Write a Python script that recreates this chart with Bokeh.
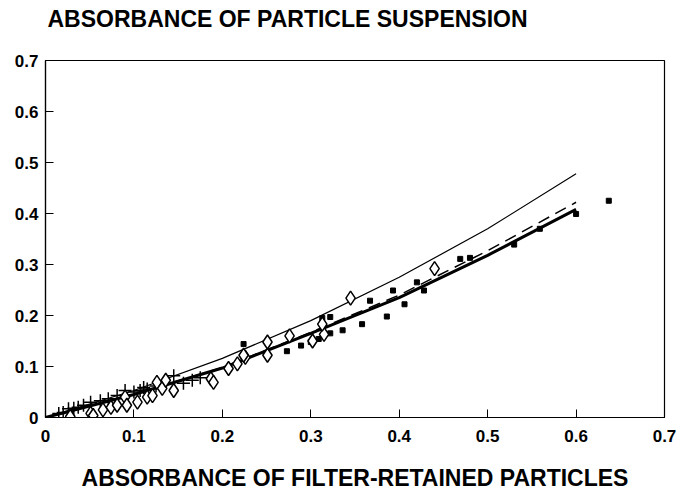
from bokeh.plotting import figure
from bokeh.models import FixedTicker, Title
from bokeh.embed import file_html
from bokeh.resources import INLINE

# ---- data ----
cross_x = [0.015, 0.020, 0.026, 0.032, 0.037, 0.043, 0.051, 0.062, 0.071, 0.081, 0.090, 0.100,
           0.107, 0.111, 0.115, 0.125, 0.145, 0.156, 0.166, 0.175]
cross_y = [0.008, 0.010, 0.017, 0.018, 0.020, 0.024, 0.030, 0.033, 0.037, 0.043, 0.053, 0.050,
           0.053, 0.059, 0.056, 0.062, 0.082, 0.067, 0.073, 0.078]

diam_x = [0.028, 0.051, 0.054, 0.065, 0.074, 0.081, 0.090, 0.092, 0.104, 0.115, 0.121, 0.126,
          0.132, 0.136, 0.145, 0.187, 0.190, 0.207, 0.217, 0.226, 0.224, 0.251, 0.251, 0.276,
          0.302, 0.315, 0.313, 0.345, 0.440]
diam_y = [0.002, 0.008, 0.004, 0.015, 0.020, 0.024, 0.040, 0.024, 0.030, 0.040, 0.043, 0.069,
          0.057, 0.073, 0.053, 0.076, 0.069, 0.096, 0.105, 0.118, 0.122, 0.122, 0.148, 0.160,
          0.150, 0.163, 0.183, 0.234, 0.292]

sq_x = [0.224, 0.273, 0.289, 0.300, 0.309, 0.313, 0.322, 0.322, 0.336, 0.358, 0.367, 0.386,
        0.393, 0.406, 0.420, 0.428, 0.469, 0.480, 0.530, 0.559, 0.600, 0.637]
sq_y = [0.144, 0.130, 0.141, 0.148, 0.154, 0.195, 0.197, 0.165, 0.171, 0.183, 0.229, 0.198,
        0.249, 0.222, 0.265, 0.249, 0.311, 0.313, 0.339, 0.370, 0.399, 0.425]

curve_x = [0.0, 0.1, 0.2, 0.3, 0.4, 0.5, 0.6]
upper_y = [0.0, 0.053, 0.116, 0.190, 0.275, 0.370, 0.478]
thick_y = [0.0, 0.045, 0.097, 0.165, 0.235, 0.318, 0.408]
dash_y = [0.0, 0.046, 0.098, 0.167, 0.240, 0.327, 0.422]

x_ticks = [0, 0.1, 0.2, 0.3, 0.4, 0.5, 0.6, 0.7]
y_ticks = [0, 0.1, 0.2, 0.3, 0.4, 0.5, 0.6, 0.7]
tick_labels = ["0", "0.1", "0.2", "0.3", "0.4", "0.5", "0.6", "0.7"]

title_text = "ABSORBANCE OF PARTICLE SUSPENSION"
xlabel_text = "ABSORBANCE OF FILTER-RETAINED PARTICLES"

FONT = "Liberation Sans"

p = figure(width=678, height=492, output_backend="svg", toolbar_location=None,
           x_range=(0, 0.7), y_range=(0, 0.7),
           min_border_left=45, min_border_right=14, min_border_top=60, min_border_bottom=75)
p.title = None

# spacer panels (blank) and the two headings, stacked outward from the frame
p.add_layout(Title(text=" ", text_font_size="1px", standoff=24), "above")
p.add_layout(Title(text=title_text, align="left", vertical_align="top", text_font=FONT,
                   text_font_size="23px", text_font_style="bold", text_color="black",
                   standoff=0, offset=2), "above")

p.add_layout(Title(text=" ", text_font_size="1px", standoff=15), "below")
p.add_layout(Title(text=xlabel_text, align="center", vertical_align="bottom", text_font=FONT,
                   text_font_size="23px", text_font_style="bold", text_color="black",
                   standoff=0), "below")

p.xgrid.visible = False
p.ygrid.visible = False
p.outline_line_color = "black"
p.outline_line_width = 1.2
p.background_fill_color = "white"
p.border_fill_color = "white"

for ax, ticks in ((p.xaxis[0], x_ticks), (p.yaxis[0], y_ticks)):
    ax.ticker = FixedTicker(ticks=ticks)
    ax.major_label_overrides = {t: lab for t, lab in zip(ticks, tick_labels)}
    ax.major_tick_in = 8
    ax.major_tick_out = 0
    ax.minor_tick_line_color = None
    ax.axis_line_color = "black"
    ax.axis_line_width = 1.2
    ax.major_tick_line_color = "black"
    ax.major_label_text_font = FONT
    ax.major_label_text_font_size = "17px"
    ax.major_label_text_font_style = "bold"
    ax.major_label_text_color = "black"

p.yaxis.major_label_standoff = 7
p.xaxis.major_label_standoff = 12

# curves
p.line(curve_x, upper_y, line_color="black", line_width=1.2)
p.line(curve_x, dash_y, line_color="black", line_width=1.5, line_dash="12 7")
p.line(curve_x, thick_y, line_color="black", line_width=3)

# markers
p.scatter(sq_x, sq_y, marker="square", size=5, fill_color="black", line_color="black")
p.scatter(cross_x, cross_y, marker="cross", size=13, line_color="black", line_width=1.5)
p.scatter(diam_x, diam_y, marker="diamond", size=14, fill_color="white", line_color="black",
          line_width=1.5)

open("out.html", "w").write(file_html(p, INLINE))
